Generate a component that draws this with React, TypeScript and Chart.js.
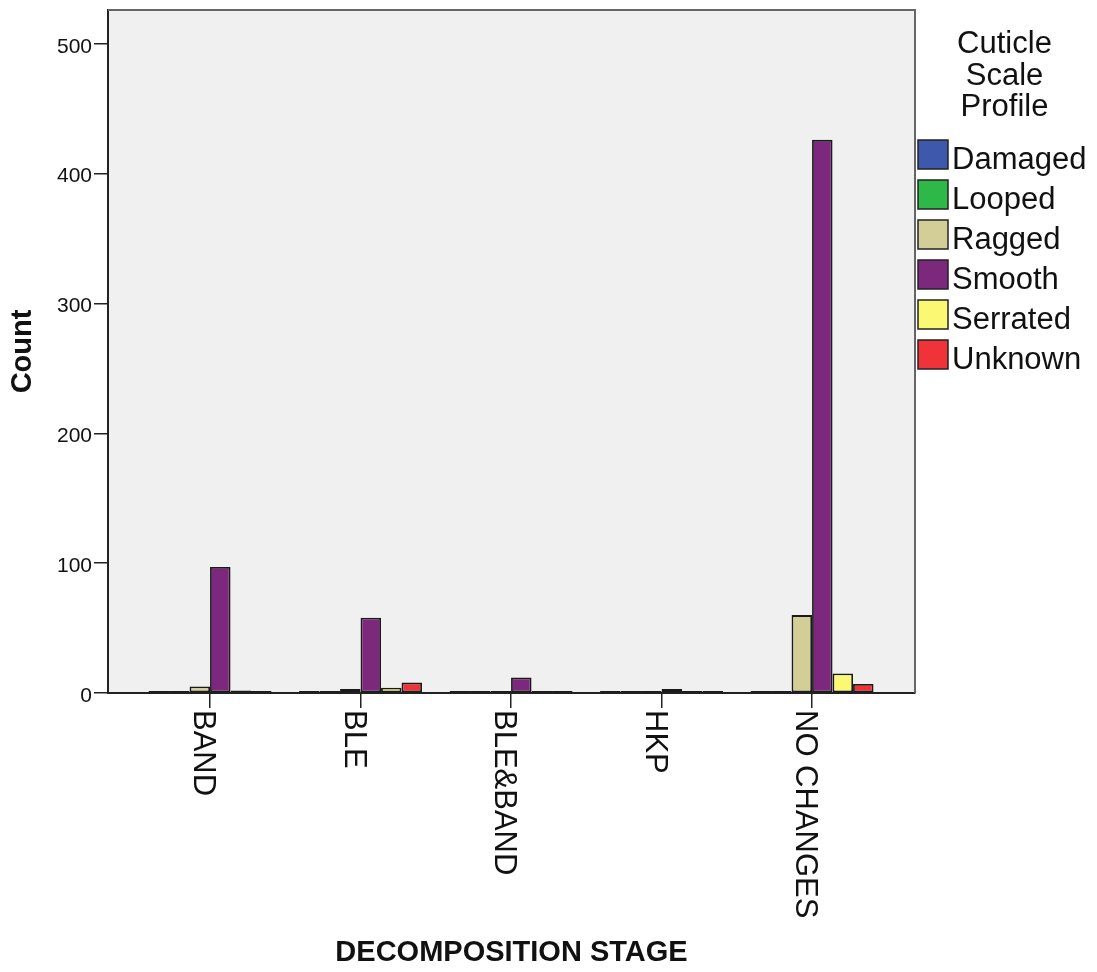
import React, { useEffect, useRef } from 'react';
import { Chart, registerables } from 'chart.js';

Chart.register(...registerables);

// ---- data ----
const categories = ['BAND', 'BLE', 'BLE&BAND', 'HKP', 'NO CHANGES'];
const seriesNames = ['Damaged', 'Looped', 'Ragged', 'Smooth', 'Serrated', 'Unknown'];
const damaged = [0, 0, 1, 0, 0];
const looped = [0, 1, 0, 0, 1];
const ragged = [5, 3, 0, 1, 60];
const smooth = [97, 58, 12, 3, 426];
const serrated = [2, 4, 0, 0, 15];
const unknown = [0, 8, 0, 0, 7];
const yTicks = [0, 100, 200, 300, 400, 500];
const legendTitle = ['Cuticle', 'Scale', 'Profile'];
const xTitle = 'DECOMPOSITION STAGE';
const yTitle = 'Count';

// ---- style ----
const colors = ['#3E58AC', '#2EB848', '#D3CE97', '#7C287D', '#FBF873', '#EF3338'];
const FONT = "'Liberation Sans', Arial, Helvetica, sans-serif";
const TEXT = '#111111';
const AXIS = '#222222';

const seriesValues = [damaged, looped, ragged, smooth, serrated, unknown];

const framePlugin = {
  id: 'frame',
  beforeDraw(chart: any) {
    const { ctx, chartArea: a } = chart;
    ctx.save();
    ctx.fillStyle = '#F0F0F0';
    ctx.fillRect(a.left, a.top, a.right - a.left, a.bottom - a.top);
    ctx.restore();
  },
  afterDatasetsDraw(chart: any) {
    const { ctx, chartArea: a } = chart;
    ctx.save();
    ctx.strokeStyle = '#666666';
    ctx.lineWidth = 2;
    ctx.beginPath();
    ctx.moveTo(a.left, a.top);
    ctx.lineTo(a.right, a.top);
    ctx.lineTo(a.right, a.bottom);
    ctx.stroke();
    ctx.restore();
  },
};

const xLabelPlugin = {
  id: 'xLabels',
  afterDraw(chart: any) {
    const { ctx } = chart;
    const xs = chart.scales.x;
    ctx.save();
    ctx.font = `31px ${FONT}`;
    ctx.fillStyle = TEXT;
    ctx.textAlign = 'left';
    ctx.textBaseline = 'alphabetic';
    categories.forEach((c, i) => {
      const px = xs.getPixelForValue(i);
      ctx.save();
      ctx.translate(px - 16, xs.top + 17);
      ctx.rotate(Math.PI / 2);
      ctx.fillText(c, 0, 0);
      ctx.restore();
    });
    ctx.restore();
  },
};

const legendPlugin = {
  id: 'sideLegend',
  afterDraw(chart: any) {
    const { ctx, chartArea: a } = chart;
    ctx.save();
    ctx.fillStyle = TEXT;
    ctx.font = `31px ${FONT}`;
    ctx.textAlign = 'center';
    ctx.textBaseline = 'alphabetic';
    legendTitle.forEach((t, i) => ctx.fillText(t, a.right + 89.5, 45 + i * 31.5));
    const bx = a.right + 3;
    seriesNames.forEach((n, i) => {
      const y = 132 + i * 40;
      ctx.fillStyle = colors[i];
      ctx.fillRect(bx, y, 30, 29);
      ctx.strokeStyle = AXIS;
      ctx.lineWidth = 1.5;
      ctx.strokeRect(bx, y, 30, 29);
      ctx.fillStyle = TEXT;
      ctx.textAlign = 'left';
      ctx.fillText(n, bx + 34, y + 29);
    });
    ctx.restore();
  },
};

export default function App() {
  const ref = useRef<HTMLCanvasElement>(null);
  useEffect(() => {
    const chart = new Chart(ref.current as HTMLCanvasElement, {
      type: 'bar',
      data: {
        datasets: seriesNames.map((name, k) => ({
          label: name,
          data: seriesValues[k].map((v, i) => ({ x: i, y: v })),
          backgroundColor: colors[k],
          borderColor: '#1a1a1a',
          borderWidth: 1.8,
          borderSkipped: false,
          minBarLength: 2,
          categoryPercentage: 0.817,
          barPercentage: 1,
        })),
      } as any,
      options: {
        responsive: false,
        animation: false,
        layout: { padding: { top: 2, right: 174, bottom: 0, left: 0 } },
        plugins: { legend: { display: false }, tooltip: { enabled: false } },
        scales: {
          x: {
            type: 'linear',
            min: -0.678,
            max: 4.684,
            offset: false,
            afterBuildTicks: (s: any) => {
              s.ticks = categories.map((_, i) => ({ value: i }));
            },
            afterFit: (s: any) => {
              s.height = 271;
              s.paddingLeft = 0;
              s.paddingRight = 0;
            },
            ticks: { display: false },
            grid: {
              offset: false,
              drawOnChartArea: false,
              drawTicks: true,
              tickLength: 15,
              color: AXIS,
              lineWidth: 1.5,
            },
            border: { display: true, color: AXIS, width: 2 },
            title: {
              display: true,
              text: xTitle,
              color: TEXT,
              font: { family: FONT, size: 29, weight: 'bold', lineHeight: 0.78 },
              padding: 0,
            },
          },
          y: {
            min: 0,
            max: 526,
            afterBuildTicks: (s: any) => {
              s.ticks = yTicks.map((v) => ({ value: v }));
            },
            afterFit: (s: any) => {
              s.width = 100;
              s.paddingTop = 0;
              s.paddingBottom = 0;
            },
            ticks: { font: { family: FONT, size: 21 }, color: TEXT, padding: 2, labelOffset: 3 },
            grid: {
              drawOnChartArea: false,
              drawTicks: true,
              tickLength: 14,
              color: AXIS,
              lineWidth: 1.5,
            },
            border: { display: true, color: AXIS, width: 2 },
            title: {
              display: true,
              text: yTitle,
              color: TEXT,
              font: { family: FONT, size: 29, weight: 'bold', lineHeight: 1 },
              padding: { top: 0.5, bottom: 0 },
            },
          },
        },
      } as any,
      plugins: [framePlugin, xLabelPlugin, legendPlugin],
    });
    return () => chart.destroy();
  }, []);
  return (
    <div style={{ width: 1081, height: 956 }}>
      <canvas ref={ref} width={1081} height={956} style={{ display: 'block' }} />
    </div>
  );
}
